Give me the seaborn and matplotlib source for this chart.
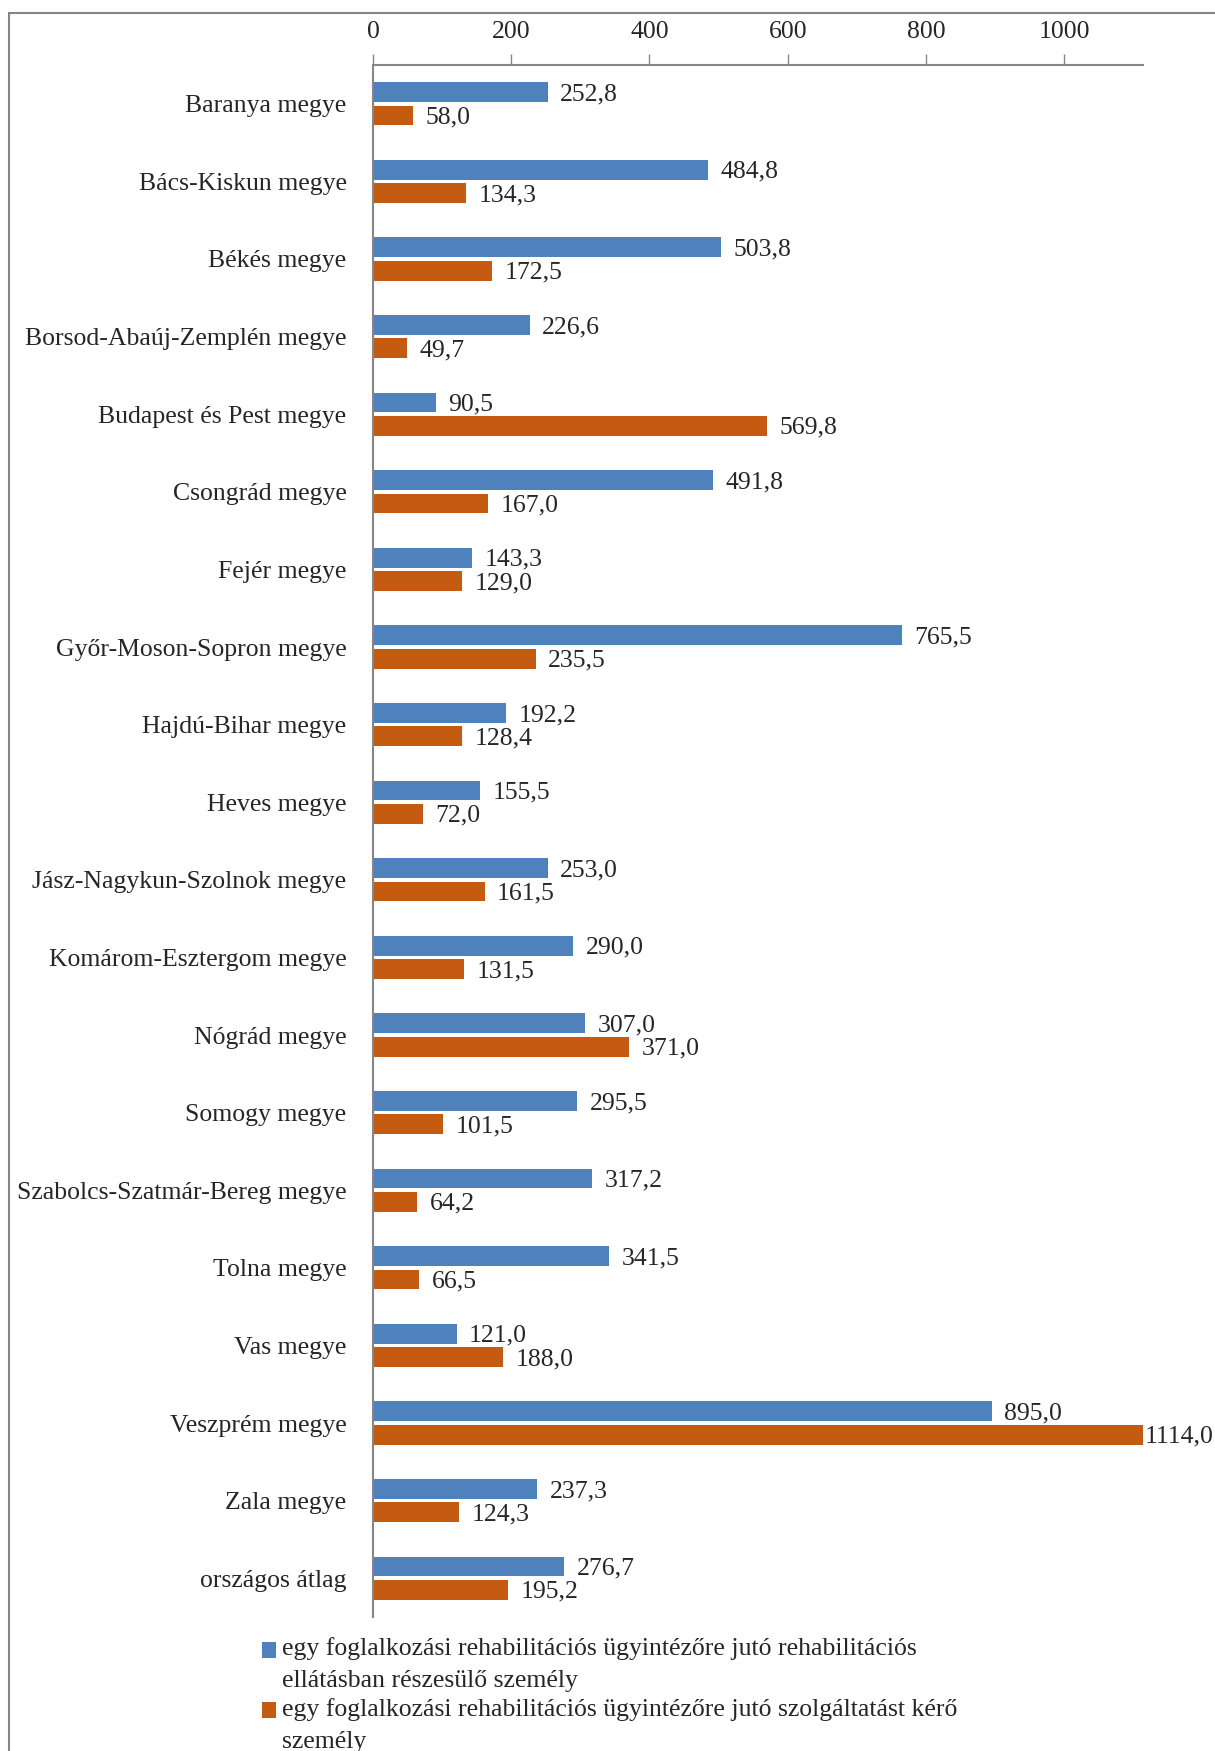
import matplotlib
matplotlib.use("Agg")
import matplotlib.pyplot as plt
import seaborn as sns
import pandas as pd
from matplotlib.patches import Rectangle

categories = [
    "Baranya megye", "Bács-Kiskun megye", "Békés megye", "Borsod-Abaúj-Zemplén megye",
    "Budapest és Pest megye", "Csongrád megye", "Fejér megye", "Győr-Moson-Sopron megye",
    "Hajdú-Bihar megye", "Heves megye", "Jász-Nagykun-Szolnok megye", "Komárom-Esztergom megye",
    "Nógrád megye", "Somogy megye", "Szabolcs-Szatmár-Bereg megye", "Tolna megye",
    "Vas megye", "Veszprém megye", "Zala megye", "országos átlag",
]
rehab_ellatas = [252.8, 484.8, 503.8, 226.6, 90.5, 491.8, 143.3, 765.5, 192.2, 155.5,
                 253.0, 290.0, 307.0, 295.5, 317.2, 341.5, 121.0, 895.0, 237.3, 276.7]
szolg_kero = [58.0, 134.3, 172.5, 49.7, 569.8, 167.0, 129.0, 235.5, 128.4, 72.0,
              161.5, 131.5, 371.0, 101.5, 64.2, 66.5, 188.0, 1114.0, 124.3, 195.2]
series_names = [
    "egy foglalkozási rehabilitációs ügyintézőre jutó rehabilitációs\nellátásban részesülő személy",
    "egy foglalkozási rehabilitációs ügyintézőre jutó szolgáltatást kérő\nszemély",
]
x_ticks = [0, 200, 400, 600, 800, 1000]
colors = ["#4F81BD", "#C55A11"]

df = pd.DataFrame({
    "megye": categories * 2,
    "sorozat": [series_names[0]] * len(categories) + [series_names[1]] * len(categories),
    "ertek": rehab_ellatas + szolg_kero,
})

sns.set_style("white")
plt.rcParams["font.family"] = ["Liberation Serif", "DejaVu Serif"]
FS = 18.5

fig = plt.figure(figsize=(12.15, 17.51), dpi=100)
ax = fig.add_axes([373 / 1215, 1 - 1617 / 1751, (1143 - 373) / 1215, (1617 - 65) / 1751])

sns.barplot(data=df, y="megye", x="ertek", hue="sorozat", orient="h",
            palette=colors, saturation=1, width=0.6, gap=0.15, ax=ax, legend=True,
            edgecolor="none", linewidth=0)

ax.set_xlim(0, 1114)
ax.set_ylim(len(categories) - 0.5, -0.5)
ax.xaxis.tick_top()
ax.set_xticks(x_ticks)
ax.set_xticklabels([str(t) for t in x_ticks], fontsize=FS)
ax.tick_params(axis="x", direction="out", length=8, width=1, color="#868686", pad=7.5)
ax.tick_params(axis="y", length=0, pad=19, labelsize=FS)
ax.set_xlabel("")
ax.set_ylabel("")
for s in ["right", "bottom"]:
    ax.spines[s].set_visible(False)
for s in ["top", "left"]:
    ax.spines[s].set_color("#868686")
    ax.spines[s].set_linewidth(1.5)

def fmt(v):
    return f"{v:.1f}".replace(".", ",")

for cont, vals in zip(ax.containers, [rehab_ellatas, szolg_kero]):
    texts = ax.bar_label(cont, labels=[fmt(v) for v in vals], padding=9, fontsize=FS)
    for t, v in zip(texts, vals):
        t.xyann = (9 if v < 1100 else 1, -1.5)

handles, labels = ax.get_legend_handles_labels()
ax.legend_.remove()
leg = fig.legend(handles, labels, loc="upper left", bbox_to_anchor=(252 / 1215, 1 - 1627 / 1751),
                 frameon=False, fontsize=FS, handlelength=0.55, handleheight=0.6,
                 handletextpad=0.2, labelspacing=0.2, borderaxespad=0)
for t in leg.get_texts():
    t.set_linespacing(1.6)
for h in leg.legend_handles:
    h.set_y(h.get_y() + 10.5)

fig.patches.append(Rectangle((9 / 1215, -0.1), 1.2, 1.1 - 13 / 1751, fill=False,
                             edgecolor="#868686", linewidth=1.5, transform=fig.transFigure))

fig.savefig("out.png", dpi=100)
